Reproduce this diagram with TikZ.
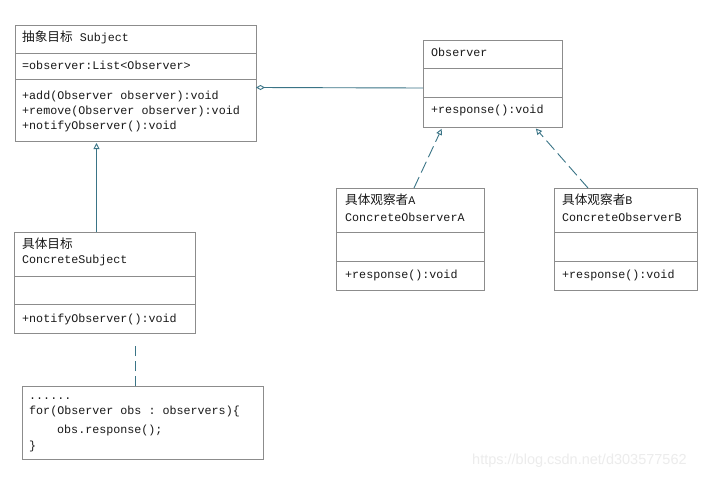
\documentclass[tikz,border=0pt]{standalone}
\usepackage{fontspec}
\setmonofont{Liberation Mono}
\newfontfamily\cjk[Scale=1.08]{Noto Sans CJK SC}
\newfontfamily\wmfont{Liberation Sans}
\usetikzlibrary{arrows.meta}
\definecolor{boxgray}{HTML}{8C8C8C}
\definecolor{linkteal}{HTML}{3A7486}
\definecolor{wmgray}{HTML}{ECECEC}

\begin{document}
\begin{tikzpicture}[x=1pt, y=-1pt,
		umlbox/.style={draw=boxgray, line width=0.9pt, anchor=north west, inner sep=0pt, outer sep=0pt},
		txt/.style={anchor=west, inner sep=0pt, text=black!90, font=\fontsize{11.7}{15}\selectfont\ttfamily, text height=8.5pt, text depth=2.5pt},
		gen/.style={draw=linkteal, line width=0.9pt, -{Triangle[open, length=6pt, width=6pt]}, shorten >=2pt},
		real/.style={gen, dash pattern=on 12pt off 5pt},
		aggr/.style={draw=linkteal, line width=0.9pt, {Diamond[open, length=9pt, width=5pt]}-}]
		\useasboundingbox[fill=white] (0,0) rectangle (715,479);

		% boxes
		\node[umlbox, minimum width=241, minimum height=116] (subj) at (15,25) {};
		\node[umlbox, minimum width=139, minimum height=87] (obs) at (423,40) {};
		\node[umlbox, minimum width=148, minimum height=102] (coA) at (336,188) {};
		\node[umlbox, minimum width=143, minimum height=102] (coB) at (554,188) {};
		\node[umlbox, minimum width=181, minimum height=101] (csub) at (14,232) {};
		\node[umlbox, minimum width=241, minimum height=73] (note) at (22,386) {};

		% compartments
		\draw[boxgray, line width=0.9pt] (15,53) -- (256,53);
		\draw[boxgray, line width=0.9pt] (15,79) -- (256,79);
		\draw[boxgray, line width=0.9pt] (423,68) -- (562,68);
		\draw[boxgray, line width=0.9pt] (423,97) -- (562,97);
		\draw[boxgray, line width=0.9pt] (336,232) -- (484,232);
		\draw[boxgray, line width=0.9pt] (336,261) -- (484,261);
		\draw[boxgray, line width=0.9pt] (554,232) -- (697,232);
		\draw[boxgray, line width=0.9pt] (554,261) -- (697,261);
		\draw[boxgray, line width=0.9pt] (14,276) -- (195,276);
		\draw[boxgray, line width=0.9pt] (14,304) -- (195,304);

		% Subject
		\node[txt] (subjname) at (22,38) {{\cjk 抽象目标} Subject};
		\node[txt] (subjattr) at (22,66.5) {=observer:List<Observer>};
		\node[txt] (subjadd) at (22,96) {+add(Observer observer):void};
		\node[txt] (subjrem) at (22,111) {+remove(Observer observer):void};
		\node[txt] (subjnot) at (22,126) {+notifyObserver():void};

		% Observer
		\node[txt] (obsname) at (431,53) {Observer};
		\node[txt] (obsresp) at (431,110.5) {+response():void};

		% concrete observers
		\node[txt] (coAcn) at (345,201) {{\cjk 具体观察者}A};
		\node[txt] (coAname) at (345,218) {ConcreteObserverA};
		\node[txt] (coAresp) at (345,275.5) {+response():void};
		\node[txt] (coBcn) at (562,201) {{\cjk 具体观察者}B};
		\node[txt] (coBname) at (562,218) {ConcreteObserverB};
		\node[txt] (coBresp) at (562,275.5) {+response():void};

		% concrete subject
		\node[txt] (csubcn) at (22,245) {\cjk 具体目标};
		\node[txt] (csubname) at (22,260.5) {ConcreteSubject};
		\node[txt] (csubnot) at (22,319) {+notifyObserver():void};

		% note
		\node[txt] (noteA) at (29,396) {......};
		\node[txt] (noteB) at (29,411) {for(Observer obs : observers)\{};
		\node[txt] (noteC) at (57,430) {obs.response();};
		\node[txt] (noteD) at (29,446) {\}};

		% relations
		\draw[aggr] ([yshift=-4.5pt]subj.east) -- ([yshift=-4.5pt]obs.west);
		\draw[gen] ([xshift=-8pt]csub.north) -- ([xshift=-8pt]csub.north |- subj.south);
		\draw[real] ([xshift=4pt]coA.north) -- ([xshift=-50pt]obs.south);
		\draw[real] ([xshift=-37.5pt]coB.north) -- ([xshift=42pt]obs.south);
		\draw[linkteal, line width=0.9pt, dash pattern=on 10pt off 5pt, shorten >=9pt] ([xshift=-7pt]note.north) -- ([xshift=-7pt]note.north |- csub.south);

		% watermark
		\node[anchor=west, inner sep=0pt, text=wmgray, font=\fontsize{14.5}{16}\wmfont] (wm) at (472,461) {https://blog.csdn.net/d303577562};
	\end{tikzpicture}
\end{document}
